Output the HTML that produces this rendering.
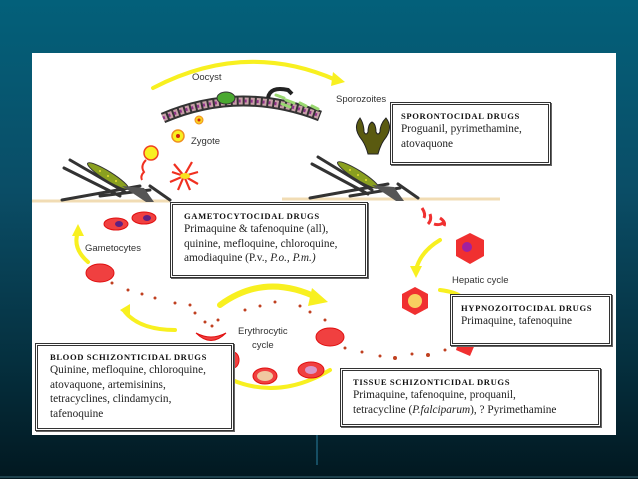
<!DOCTYPE html>
<html><head><meta charset="utf-8"><style>
html,body{margin:0;padding:0}
body{width:638px;height:479px;overflow:hidden;position:relative;background:linear-gradient(#03607a 0%,#0a4d66 40%,#05303f 75%,#021820 100%);font-family:"Liberation Serif",serif}
.w{position:absolute;left:32px;top:53px;width:584px;height:382px;background:#fff}
.b{position:absolute;border:3px double #333;background:#fff;box-shadow:1px 1px 0 #666;padding:5px 8px;font-size:11.3px;line-height:14.6px;color:#222;box-sizing:border-box;white-space:nowrap}
.b h{display:block;font-weight:bold;font-size:8.6px;letter-spacing:0.6px;line-height:12px;color:#111}
.s{position:absolute;font-family:"Liberation Sans",sans-serif;font-size:9.5px;color:#333}
</style></head><body>
<div class="w"></div>
<svg style="position:absolute;left:0;top:0" width="638" height="479" viewBox="0 0 638 479">
<line x1="317" y1="435" x2="317" y2="465" stroke="#2a7fa0" stroke-width="1"/>
<line x1="0" y1="477" x2="638" y2="477" stroke="#3a6a78" stroke-width="1"/>
<line x1="32" y1="201" x2="170" y2="201" stroke="#f1dcb4" stroke-width="3"/>
<line x1="282" y1="199" x2="500" y2="199" stroke="#f1dcb4" stroke-width="3"/>
<g fill="none" stroke="#f8f020" stroke-width="4" stroke-linecap="round">
<path d="M153 88 Q245 40 336 80"/>
<path d="M88 262 Q72 248 78 232"/>
<path d="M175 330 Q140 330 125 312"/>
<path d="M220 305 Q265 272 318 298" stroke-width="6"/>
<path d="M232 380 Q280 400 330 370"/>
<path d="M440 240 Q420 252 416 270"/>
<path d="M440 290 Q455 292 460 296"/>
<path d="M370 395 Q400 400 430 388"/>
</g>
<g fill="#f8f020">
<polygon points="333,72 345,82 331,86"/>
<polygon points="72,236 78,224 84,236"/>
<polygon points="130,304 120,310 130,318"/>
<polygon points="312,288 328,302 308,306"/>
<polygon points="410,266 416,278 422,266"/>
<polygon points="376,388 366,395 378,400"/>
</g>
<path d="M163 118 Q240 85 320 116" fill="none" stroke="#333" stroke-width="11"/>
<path d="M163 118 Q240 85 320 116" fill="none" stroke="#c8a0a8" stroke-width="7" stroke-dasharray="4 2"/>
<path d="M163 118 Q240 85 320 116" fill="none" stroke="#90308a" stroke-width="3" stroke-dasharray="2 4"/>
<ellipse cx="226" cy="98" rx="9" ry="6" fill="#4aa830" stroke="#333"/>
<path d="M268 98 q2 -12 20 -8 l4 4" fill="none" stroke="#222" stroke-width="4"/>
<g stroke="#9ad870" stroke-width="3" stroke-linecap="round"><line x1="276" y1="95" x2="284" y2="98"/><line x1="286" y1="100" x2="294" y2="103"/><line x1="300" y1="103" x2="306" y2="106"/><line x1="312" y1="106" x2="318" y2="109"/><line x1="282" y1="104" x2="290" y2="107"/></g>
<circle cx="199" cy="120" r="4" fill="#f8d020" stroke="#f09020"/><circle cx="199" cy="120" r="1.5" fill="#d02010"/>
<circle cx="178" cy="136" r="6" fill="#f8f020" stroke="#f09020" stroke-width="1.5"/><circle cx="178" cy="136" r="2" fill="#d02010"/>
<circle cx="151" cy="153" r="7" fill="#f8f020" stroke="#f04020" stroke-width="1.5"/>
<path d="M146 160 q-6 6 -2 12 q-4 4 -2 8" fill="none" stroke="#f03020" stroke-width="2"/>
<g stroke="#f03020" stroke-width="2.2" fill="none"><path d="M184 176 l-10 -12 M184 176 l8 -14 M184 176 l14 -4 M184 176 l14 8 M184 176 l6 14 M184 176 l-6 14 M184 176 l-14 6 M184 176 l-12 -4"/></g>
<ellipse cx="185" cy="176" rx="5" ry="3" fill="#f8e020"/>
<path d="M360 118 q-8 10 2 22 q4 6 6 14 l10 0 q2 -8 6 -14 q10 -12 2 -22 q-6 6 -6 14 q-2 4 -4 0 q0 -8 -4 -10 q-4 2 -4 10 q-2 4 -4 0 q0 -8 -4 -14z" fill="#5a5a10" stroke="#222"/>
<g stroke="#333" stroke-width="3" fill="none" stroke-linecap="round">
<path d="M70 160 L125 192 M64 168 L120 196 M150 186 L170 200 M62 200 L140 186 M100 196 L150 190"/>
<path d="M318 157 L372 190 M312 164 L368 194 M398 184 L418 198 M310 198 L388 184 M350 196 L400 188"/>
</g>
<ellipse cx="108" cy="176" rx="24" ry="4.5" transform="rotate(32 108 176)" fill="#8aa020" stroke="#333"/>
<ellipse cx="358" cy="175" rx="24" ry="4.5" transform="rotate(32 358 175)" fill="#8aa020" stroke="#333"/>
<g fill="#e8e030"><circle cx="100" cy="171" r="1"/><circle cx="108" cy="176" r="1"/><circle cx="116" cy="181" r="1"/><circle cx="350" cy="170" r="1"/><circle cx="358" cy="175" r="1"/><circle cx="366" cy="180" r="1"/></g>
<path d="M122 186 l22 2 l10 14 l-8 0z" fill="#555"/>
<path d="M372 185 l22 2 l10 14 l-8 0z" fill="#555"/>
<g fill="#f04040" stroke="#e01010">
<ellipse cx="116" cy="224" rx="12" ry="6"/><ellipse cx="144" cy="218" rx="12" ry="6"/>
<ellipse cx="100" cy="273" rx="14" ry="9"/>
<ellipse cx="330" cy="337" rx="14" ry="9"/>
<ellipse cx="311" cy="370" rx="13" ry="8"/>
<ellipse cx="265" cy="376" rx="12" ry="8"/>
<ellipse cx="233" cy="360" rx="6" ry="8"/>
<path d="M196 333 q15 15 30 0 q-15 8 -30 0z"/>
</g>
<ellipse cx="119" cy="224" rx="4" ry="3" fill="#602080"/><ellipse cx="147" cy="218" rx="4" ry="3" fill="#602080"/>
<ellipse cx="311" cy="370" rx="6" ry="4" fill="#d898c8"/>
<ellipse cx="265" cy="376" rx="8" ry="5" fill="#f0c8a0"/>
<g fill="#c04020">
<circle cx="112" cy="283" r="1.5"/><circle cx="128" cy="290" r="1.5"/><circle cx="142" cy="294" r="1.5"/><circle cx="155" cy="298" r="1.5"/><circle cx="175" cy="303" r="1.5"/><circle cx="190" cy="305" r="1.5"/><circle cx="195" cy="313" r="1.5"/>
<circle cx="205" cy="322" r="1.5"/><circle cx="212" cy="326" r="1.5"/><circle cx="218" cy="320" r="1.5"/><circle cx="245" cy="310" r="1.5"/><circle cx="260" cy="306" r="1.5"/><circle cx="275" cy="302" r="1.5"/><circle cx="300" cy="306" r="1.5"/><circle cx="310" cy="312" r="1.5"/><circle cx="325" cy="320" r="1.5"/>
<circle cx="345" cy="348" r="1.5"/><circle cx="362" cy="352" r="1.5"/><circle cx="380" cy="356" r="1.5"/><circle cx="395" cy="358" r="2"/><circle cx="412" cy="354" r="1.5"/><circle cx="428" cy="355" r="2"/><circle cx="445" cy="350" r="1.5"/>
</g>
<g fill="#f03030">
<path d="M422 208 q4 6 2 10 M430 214 q2 6 -2 10 M434 224 q6 2 10 -2 M440 218 q6 4 4 8" stroke="#f03030" stroke-width="3" fill="none"/>
<polygon points="470,233 484,240 484,256 470,264 456,256 456,240"/>
<polygon points="415,287 428,294 428,308 415,315 402,308 402,294"/>
<polygon points="460,336 476,342 470,356 456,350"/>
</g>
<circle cx="467" cy="247" r="5" fill="#a020a0"/>
<circle cx="415" cy="301" r="7" fill="#f8d060"/>
</svg>
<div class="s" style="left:192px;top:72px">Oocyst</div>
<div class="s" style="left:336px;top:94px">Sporozoites</div>
<div class="s" style="left:191px;top:136px">Zygote</div>
<div class="s" style="left:85px;top:243px">Gametocytes</div>
<div class="s" style="left:238px;top:325px;text-align:center;line-height:14px">Erythrocytic<br>cycle</div>
<div class="s" style="left:452px;top:275px">Hepatic cycle</div>
<div class="b" style="left:390px;top:102px;width:161px;height:63px"><h>SPORONTOCIDAL DRUGS</h>Proguanil, pyrimethamine,<br>atovaquone</div>
<div class="b" style="left:170px;top:202px;width:198px;height:76px;padding-left:11px"><h>GAMETOCYTOCIDAL DRUGS</h>Primaquine &amp; tafenoquine (all),<br>quinine, mefloquine, chloroquine,<br>amodiaquine (P.v., <i>P.o., P.m.)</i></div>
<div class="b" style="left:450px;top:294px;width:162px;height:52px"><h>HYPNOZOITOCIDAL DRUGS</h>Primaquine, tafenoquine</div>
<div class="b" style="left:35px;top:343px;width:199px;height:88px;padding-left:12px"><h>BLOOD SCHIZONTICIDAL DRUGS</h>Quinine, mefloquine, chloroquine,<br>atovaquone, artemisinins,<br>tetracyclines, clindamycin,<br>tafenoquine</div>
<div class="b" style="left:340px;top:368px;width:261px;height:59px;padding-left:10px"><h>TISSUE SCHIZONTICIDAL DRUGS</h>Primaquine, tafenoquine, proquanil,<br>tetracycline (<i>P.falciparum</i>), ? Pyrimethamine</div>
</body></html>
